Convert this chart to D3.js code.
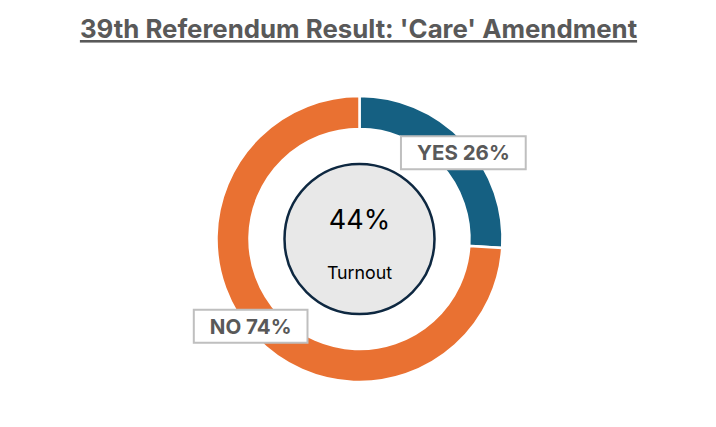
<!DOCTYPE html>
<html>
<head>
<meta charset="utf-8">
<script src="https://cdn.jsdelivr.net/npm/d3@7"></script>
<style>
  body { margin: 0; background: #fff; }
  text { font-family: Inter, "Open Sans", sans-serif; }
</style>
</head>
<body>
<div id="chart"></div>
<script>
// data
var categories = ["YES", "NO"];
var shares = [26, 74];
var colors = ["#156082", "#E97132"];
var turnout = 44;
var title = "39th Referendum Result: 'Care' Amendment";

var width = 716;
var height = 427;
var cx = 359.5, cy = 239;
var outerR = 143, innerR = 110, hubR = 75;
// nudges so the label boxes sit where the original had them
var labelShift = [{ x: 12, y: 0 }, { x: -17, y: 1 }];

var svg = d3.select("#chart").
    append("svg").
    attr("width", width).
    attr("height", height);

svg.append("text").
    attr("x", width / 2 + 0.5).
    attr("y", 38).
    attr("text-anchor", "middle").
    attr("font-size", 25.8).
    attr("font-weight", 700).
    attr("fill", "#595959").
    attr("text-decoration", "underline").
    text(title);

var pie = d3.pie().sort(null).value(function (d) { return d; });
var arcs = pie(shares);

var arc = d3.arc().innerRadius(innerR).outerRadius(outerR);
var labelArc = d3.arc().innerRadius(126).outerRadius(126);

var g = svg.append("g").
    attr("transform", "translate(" + cx + "," + cy + ")");

g.selectAll("path.slice").
    data(arcs).
    enter().
    append("path").
    attr("class", "slice").
    attr("d", arc).
    attr("fill", function (d, i) { return colors[i]; }).
    attr("stroke", "#fff").
    attr("stroke-width", 2.5);

// turnout hub
g.append("circle").
    attr("r", hubR).
    attr("fill", "#e8e8e8").
    attr("stroke", "#0e2841").
    attr("stroke-width", 2.5);

g.append("text").
    attr("y", -20).
    attr("text-anchor", "middle").
    attr("dominant-baseline", "central").
    attr("font-size", 27).
    attr("fill", "#000").
    text(turnout + "%");

g.append("text").
    attr("y", 33).
    attr("text-anchor", "middle").
    attr("dominant-baseline", "central").
    attr("font-size", 17.8).
    attr("fill", "#000").
    text("Turnout");

// slice labels in boxes
var labels = g.selectAll("g.label").
    data(arcs).
    enter().
    append("g").
    attr("class", "label").
    attr("transform", function (d, i) {
        var c = labelArc.centroid(d);
        return "translate(" + (c[0] + labelShift[i].x) + "," + (c[1] + labelShift[i].y) + ")";
    });

labels.append("rect").
    attr("fill", "#fff").
    attr("stroke", "#bfbfbf").
    attr("stroke-width", 2);

labels.append("text").
    attr("text-anchor", "middle").
    attr("dominant-baseline", "central").
    attr("font-size", 20.5).
    attr("font-weight", 700).
    attr("fill", "#595959").
    text(function (d, i) { return categories[i] + " " + shares[i] + "%"; });

labels.each(function () {
    var grp = d3.select(this);
    var bb = grp.select("text").node().getBBox();
    var w = bb.width + 32, h = 33;
    grp.select("rect").
        attr("x", -w / 2).
        attr("y", -h / 2).
        attr("width", w).
        attr("height", h);
});
</script>
</body>
</html>
